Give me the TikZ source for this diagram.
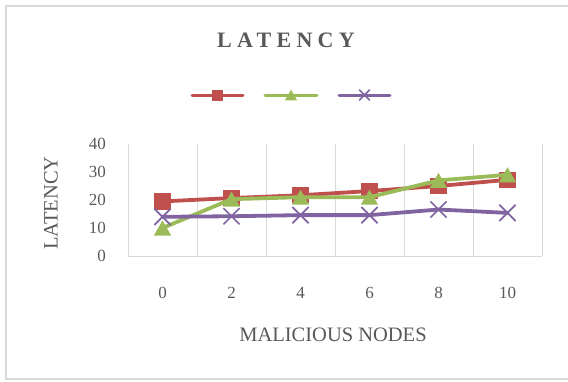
\documentclass[tikz,border=0pt]{standalone}
\usepackage{fontspec}
\setmainfont{Liberation Serif}
\usetikzlibrary{shapes.geometric,shapes.misc}
\definecolor{sred}{HTML}{C0504D}
\definecolor{sgreen}{HTML}{9BBB59}
\definecolor{spurple}{HTML}{8064A2}
\definecolor{gridgray}{HTML}{D9D9D9}
\definecolor{txtgray}{HTML}{595959}
\tikzset{
  sqmark/.style={rectangle,fill=sred,minimum size=#1,inner sep=0pt},
  trimark/.style={regular polygon,regular polygon sides=3,fill=sgreen,minimum size=#1,inner sep=0pt,yshift=-0.125*#1},
  xmark/.style={cross out,draw=spurple,line width=1.7pt,minimum size=#1,inner sep=0pt},
  redline/.style={sred,line width=3.8pt,line join=round,line cap=round},
  greenline/.style={sgreen,line width=3.8pt,line join=round,line cap=round},
  purpleline/.style={spurple,line width=3.8pt,line join=round,line cap=round},
  legline/.style={line width=3pt,line cap=round},
  ticklab/.style={text=txtgray,font=\fontsize{17}{20}\selectfont,inner sep=0pt},
  axtitle/.style={text=txtgray,font=\fontsize{20.5}{24}\selectfont,inner sep=0pt},
  gridline/.style={gridgray,line width=1pt}
}
\begin{document}
\begin{tikzpicture}[x=1pt,y=-1pt]
\useasboundingbox (0,0) rectangle (568,381);
% outer frame
\draw[gridgray,line width=1.6pt] (572,6) -- (6,6) -- (6,379) -- (572,379);
% title
\node[text=txtgray,inner sep=0pt,font=\fontsize{22}{26}\selectfont\bfseries\addfontfeature{LetterSpace=24}] (title) at (286,40) {LATENCY};
% legend
\coordinate (l1a) at (192,95); \coordinate (l1b) at (243,95);
\coordinate (l2a) at (265,95); \coordinate (l2b) at (317,95);
\coordinate (l3a) at (339,95); \coordinate (l3b) at (390,95);
\draw[legline,sred] (l1a) -- (l1b);
\node[sqmark=11pt] (lm1) at (217.5,95) {};
\draw[legline,sgreen] (l2a) -- (l2b);
\node[trimark=14pt] (lm2) at (291,95) {};
\draw[legline,spurple] (l3a) -- (l3b);
\node[xmark=9pt] (lm3) at (364.5,95) {};
% grid
\foreach \i in {0,...,6} {
  \draw[gridline] (128+69*\i,144) -- (128+69*\i,256);
}
\draw[gridline] (128,256) -- (542,256);
% y tick labels
\foreach \v in {0,10,20,30,40} {
  \node[ticklab,anchor=east] (yt\v) at (106,256-2.8*\v) {\v};
}
% x tick labels
\foreach \k/\lab in {0/0,1/2,2/4,3/6,4/8,5/10} {
  \node[ticklab] (xt\k) at (162.5+69*\k,292.5) {\lab};
}
% axis titles
\node[axtitle,rotate=90] (ytitle) at (51,203) {LATENCY};
\node[axtitle] (xtitle) at (333,335) {MALICIOUS NODES};
% data
\begin{scope}[shift={(162.5,256)},x=69pt,y=2.8pt]
  \draw[redline] plot coordinates {(0,19.5) (1,20.7) (2,21.7) (3,23.2) (4,25) (5,27.2)};
  \foreach \k/\v in {0/19.5,1/20.7,2/21.7,3/23.2,4/25,5/27.2}
    \node[sqmark=16.5pt] (r\k) at (\k,\v) {};
  \draw[greenline] plot coordinates {(0,10) (1,20.3) (2,21) (3,21) (4,27) (5,29)};
  \foreach \k/\v in {0/10,1/20.3,2/21,3/21,4/27,5/29}
    \node[trimark=20pt] (g\k) at (\k,\v) {};
  \draw[purpleline] plot coordinates {(0,14) (1,14.2) (2,14.6) (3,14.6) (4,16.6) (5,15.4)};
  \foreach \k/\v in {0/14,1/14.2,2/14.6,3/14.6,4/16.6,5/15.4}
    \node[xmark=14.5pt] (p\k) at (\k,\v) {};
\end{scope}
\end{tikzpicture}
\end{document}
